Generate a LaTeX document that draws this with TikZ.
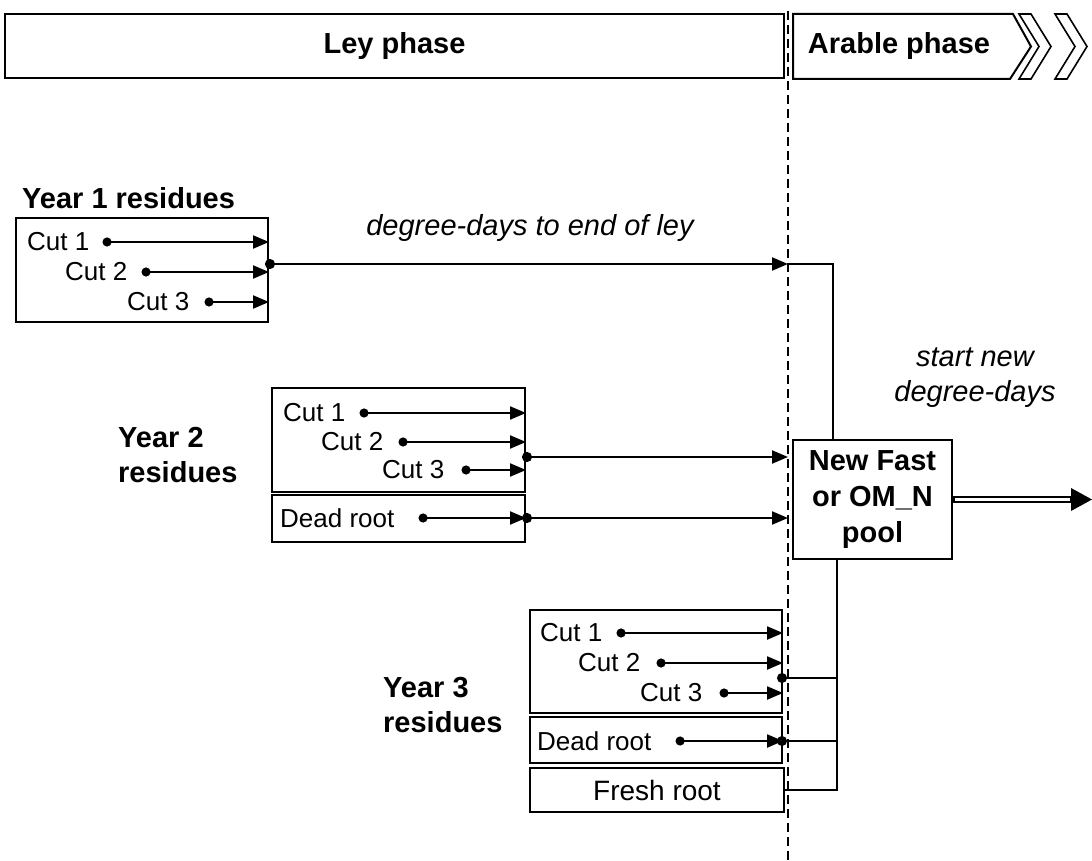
\documentclass[tikz,border=0pt]{standalone}
\usepackage{fontspec}
\setmainfont{Liberation Sans}
\usetikzlibrary{positioning,arrows.meta}

\begin{document}
\begin{tikzpicture}[x=1pt, y=-1pt,
  box/.style={draw, line width=2pt, inner sep=0pt},
  title/.style={font=\fontsize{29}{35}\selectfont\bfseries, inner sep=0pt, align=left},
  note/.style={font=\fontsize{29}{35}\selectfont\itshape, inner sep=0pt, align=center},
  lbl/.style={font=\fontsize{26}{31}\selectfont, inner sep=0pt},
  cutarr/.style={line width=2.2pt, {Circle[length=9pt]}-{Triangle[length=16pt,width=13pt]}},
  feed/.style={line width=2.2pt, {Circle[length=10pt]}-{Triangle[length=16pt,width=13pt]}},
  tie/.style={line width=1.6pt},
  divider/.style={line width=2.2pt, dash pattern=on 9pt off 5pt}]
\useasboundingbox (0,0) rectangle (1092,861);

% phases
\node[box, title, minimum width=779pt, minimum height=64pt] (ley) at (394.5,46.5) {Ley phase};
\draw[line width=2pt] (793,14) -- (1013,14) -- (1031,46.5) -- (1010,79) -- (793,79) -- cycle;
\node[title] (arable) at (899,46.5) {Arable phase};
\draw[line width=1.6pt] (1019,14) -- (1031,14) -- (1051,46.5) -- (1031,79) -- (1019,79) -- (1039,46.5) -- cycle;
\draw[line width=1.6pt] (1055,14) -- (1067,14) -- (1087,46.5) -- (1067,79) -- (1055,79) -- (1075,46.5) -- cycle;
\coordinate (divtop) at (788,11);
\coordinate (divbot) at (788,861);
\draw[divider] (divtop) -- (divbot);

% pool
\node[box, title, align=center, font=\fontsize{29}{36}\selectfont\bfseries,
      minimum width=159pt, minimum height=119pt] (pool) at (872.5,499.5) {New Fast\\or OM\_N\\pool};
\coordinate (out) at (1092,499.5);
\draw[line width=7pt, -{Triangle[length=21pt,width=23pt,line width=0pt]}] (pool.east) -- (out);
\draw[white, line width=2.8pt, shorten <=1.5pt, shorten >=22pt] (pool.east) -- (out);
\node[note] (newdd) at (975,378) {start new\\degree-days};

% year 1
\node[title, anchor=west] (y1t) at (22,198) {Year 1 residues};
\node[box, minimum width=252pt, minimum height=104pt] (y1) at (142,270) {};
\node[lbl, anchor=west] (y1c1) at (27,242) {Cut 1};
\node[lbl, anchor=west] (y1c2) at (65,272) {Cut 2};
\node[lbl, anchor=west] (y1c3) at (127,302) {Cut 3};
\coordinate[right=13pt of y1c1] (y1d1);
\coordinate[right=14pt of y1c2] (y1d2);
\coordinate[right=15pt of y1c3] (y1d3);
\draw[cutarr] (y1d1) -- (y1d1 -| y1.east);
\draw[cutarr] (y1d2) -- (y1d2 -| y1.east);
\draw[cutarr] (y1d3) -- (y1d3 -| y1.east);
\coordinate (j1) at (265,264);
\coordinate (t1) at (833,264);
\draw[feed] (j1) -- (j1 -| divbot);
\draw[tie] (j1 -| divbot) -- (t1) -- (t1 |- pool.north);
\node[note, anchor=base] (endley) at (530,235) {degree-days to end of ley};

% year 2
\node[title, anchor=west] (y2t) at (118,455.5) {Year 2\\residues};
\node[box, minimum width=253pt, minimum height=104pt] (y2) at (398.5,440) {};
\node[box, minimum width=253pt, minimum height=47pt] (y2r) at (398.5,518.5) {};
\node[lbl, anchor=west] (y2c1) at (283,413) {Cut 1};
\node[lbl, anchor=west] (y2c2) at (321,442) {Cut 2};
\node[lbl, anchor=west] (y2c3) at (382,470) {Cut 3};
\node[lbl, anchor=west] (y2dr) at (280,518) {Dead root};
\coordinate[right=14pt of y2c1] (y2d1);
\coordinate[right=15pt of y2c2] (y2d2);
\coordinate[right=17pt of y2c3] (y2d3);
\coordinate[right=24pt of y2dr] (y2dd);
\draw[cutarr] (y2d1) -- (y2d1 -| y2.east);
\draw[cutarr] (y2d2) -- (y2d2 -| y2.east);
\draw[cutarr] (y2d3) -- (y2d3 -| y2.east);
\draw[cutarr] (y2dd) -- (y2dd -| y2r.east);
\coordinate (j2) at (522,457);
\coordinate (j2r) at (522,518);
\draw[feed] (j2) -- (j2 -| divbot);
\draw[feed] (j2r) -- (j2r -| divbot);

% year 3
\node[title, anchor=west] (y3t) at (383,705) {Year 3\\residues};
\node[box, minimum width=252pt, minimum height=103pt] (y3) at (656,661.5) {};
\node[box, minimum width=252pt, minimum height=46pt] (y3r) at (656,740) {};
\node[box, font=\fontsize{28}{34}\selectfont, minimum width=254pt, minimum height=44pt] (y3f) at (657,790) {Fresh root};
\node[lbl, anchor=west] (y3c1) at (540,633) {Cut 1};
\node[lbl, anchor=west] (y3c2) at (578,663) {Cut 2};
\node[lbl, anchor=west] (y3c3) at (640,693) {Cut 3};
\node[lbl, anchor=west] (y3dr) at (537,741) {Dead root};
\coordinate[right=14pt of y3c1] (y3d1);
\coordinate[right=16pt of y3c2] (y3d2);
\coordinate[right=17pt of y3c3] (y3d3);
\coordinate[right=24pt of y3dr] (y3dd);
\draw[cutarr] (y3d1) -- (y3d1 -| y3.east);
\draw[cutarr] (y3d2) -- (y3d2 -| y3.east);
\draw[cutarr] (y3d3) -- (y3d3 -| y3.east);
\draw[cutarr] (y3dd) -- (y3dd -| y3r.east);
\coordinate (j3) at (777,678);
\coordinate (j3r) at (777,741);
\coordinate (t2) at (837,678);
\draw[tie, {Circle[length=10pt]}-] (j3) -- (t2);
\draw[tie, {Circle[length=10pt]}-] (j3r) -- (j3r -| t2);
\draw[tie] (t2 |- pool.south) -- (t2 |- y3f.east) -- (y3f.east);
\end{tikzpicture}
\end{document}
